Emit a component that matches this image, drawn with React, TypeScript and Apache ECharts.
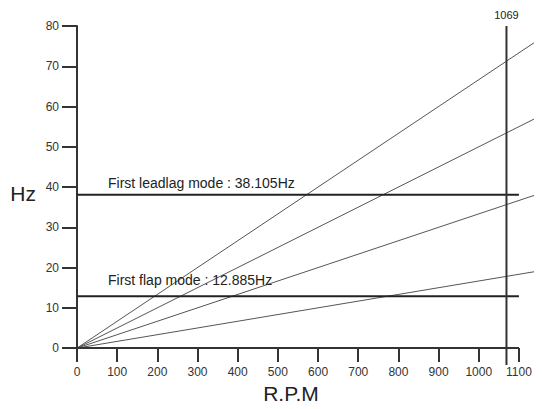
import React, { useEffect, useRef } from "react";
import * as echarts from "echarts";

const xTicks = [0, 100, 200, 300, 400, 500, 600, 700, 800, 900, 1000, 1100];
const rpmEnd = 1140;
const axisEnd = 1100;
const harmonicEndValues = [19, 38, 57, 76];
const leadlagHz = 38.105;
const flapHz = 12.885;
const operatingRpm = 1069;
const modeLabels = ["First leadlag mode : 38.105Hz", "First flap mode : 12.885Hz"];

export default function App() {
  const ref = useRef<HTMLDivElement>(null);
  useEffect(() => {
    if (!ref.current) return;
    const chart = echarts.init(ref.current, null, { renderer: "svg" });
    const font = "'Liberation Sans', Arial, sans-serif";
    const harmonicSeries = harmonicEndValues.map((v) => ({
      type: "line",
      data: [
        [0, 0],
        [rpmEnd, v],
      ],
      symbol: "none",
      clip: false,
      lineStyle: { color: "#555", width: 1 },
      silent: true,
    }));
    const textLabel = (coord: number[], text: string, extra: any) => ({
      symbol: "circle",
      symbolSize: 0,
      silent: true,
      data: [
        {
          coord,
          label: {
            show: true,
            formatter: text,
            color: "#222",
            fontFamily: font,
            ...extra,
          },
        },
      ],
    });
    const hLine = (val: number, label: string, dy: number) => ({
      type: "line",
      data: [
        [0, val],
        [axisEnd, val],
      ],
      symbol: "none",
      clip: false,
      lineStyle: { color: "#222", width: 2 },
      markPoint: textLabel([0, val], label, {
        position: "right",
        offset: [26, -dy],
        align: "left",
        verticalAlign: "bottom",
        fontSize: 14,
      }),
    });
    chart.setOption({
      animation: false,
      grid: { left: 77, top: 26, right: 7, bottom: 59 },
      xAxis: {
        type: "value",
        min: 0,
        max: rpmEnd,
        name: "R.P.M",
        nameLocation: "middle",
        nameGap: 30,
        nameTextStyle: {
          fontSize: 21,
          color: "#222",
          fontFamily: font,
          padding: [0, 30, 0, 0],
        },
        axisLine: { show: false },
        axisTick: {
          show: true,
          length: 14,
          customValues: xTicks,
          lineStyle: { color: "#333", width: 2 },
        },
        axisLabel: {
          margin: 18,
          fontSize: 12,
          color: "#333",
          fontFamily: font,
          customValues: xTicks,
          formatter: (v: number) => String(v),
        },
        splitLine: { show: false },
      },
      yAxis: {
        type: "value",
        min: 0,
        max: 80,
        interval: 10,
        name: "Hz",
        nameLocation: "middle",
        nameRotate: 0,
        nameGap: 41,
        nameTextStyle: {
          fontSize: 21,
          color: "#222",
          fontFamily: font,
          verticalAlign: "top",
          lineHeight: 12,
        },
        axisLine: { show: true, lineStyle: { color: "#333", width: 2 } },
        axisTick: { show: true, length: 15, lineStyle: { color: "#333", width: 2 } },
        axisLabel: { margin: 18, fontSize: 12, color: "#333", fontFamily: font },
        splitLine: { show: false },
      },
      series: [
        {
          type: "line",
          data: [
            [0, 0],
            [axisEnd, 0],
          ],
          symbol: "none",
          clip: false,
          lineStyle: { color: "#333", width: 2 },
          z: 5,
        },
        ...harmonicSeries,
        hLine(leadlagHz, modeLabels[0], 5),
        hLine(flapHz, modeLabels[1], 9),
        {
          type: "line",
          data: [
            [operatingRpm, 80],
            [operatingRpm, -4.2],
          ],
          symbol: "none",
          clip: false,
          lineStyle: { color: "#333", width: 2 },
          markPoint: textLabel([operatingRpm, 80], String(operatingRpm), {
            position: "top",
            distance: 6,
            fontSize: 11,
          }),
        },
      ],
    });
    return () => chart.dispose();
  }, []);
  return <div ref={ref} style={{ width: 542, height: 409, margin: -8 }} />;
}
